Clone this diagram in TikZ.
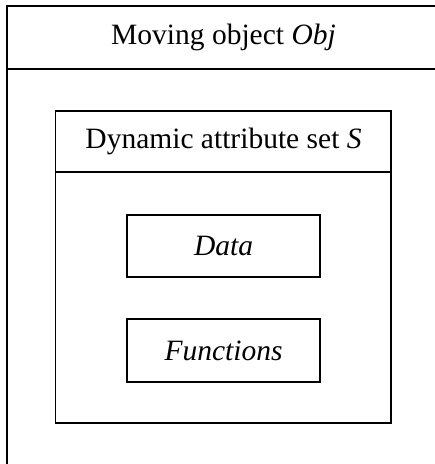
\documentclass[tikz,border=0pt]{standalone}
\usepackage{fontspec}
\setmainfont{Liberation Serif}
\begin{document}
\begin{tikzpicture}[x=1pt,y=-1pt,
  box/.style={draw, line width=1.4pt, inner sep=0pt},
  lbl/.style={font=\fontsize{29.5}{34}\selectfont, inner sep=0pt}]
\useasboundingbox (0,0) rectangle (435,464);
\clip (0,0) rectangle (435,464);
% outer box
\draw[box] (7,6) rectangle (440,465);
\coordinate (ohl) at (7,69);
\coordinate (ohr) at (440,69);
\draw[box] (ohl) -- (ohr);
\node[lbl] (objlbl) at (223.5,37) {Moving object \textit{Obj}};
% inner box
\draw[box] (55.5,111) rectangle (391,423);
\coordinate (ihl) at (55.5,172);
\coordinate (ihr) at (391,172);
\draw[box] (ihl) -- (ihr);
\node[lbl] (setlbl) at (223.5,141) {Dynamic attribute set \textit{S}};
% data and functions
\node[box, lbl, minimum width=193pt, minimum height=62pt] (data) at (223.5,246) {\textit{Data}};
\node[box, lbl, minimum width=193pt, minimum height=63pt] (func) at (223.5,350.5) {\textit{Functions}};
\end{tikzpicture}
\end{document}
